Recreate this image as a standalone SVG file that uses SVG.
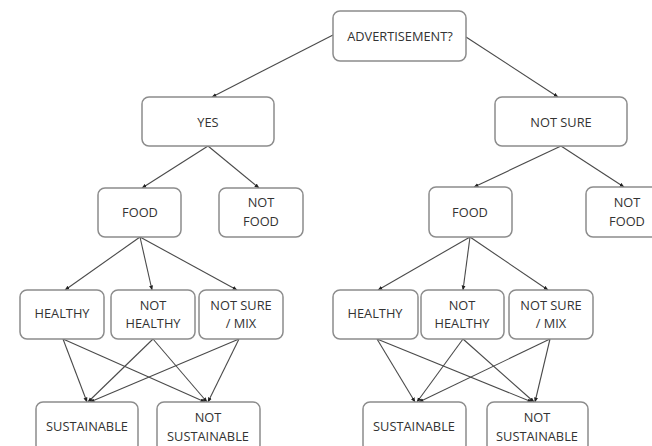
<svg xmlns="http://www.w3.org/2000/svg" width="652" height="446" viewBox="0 0 652 446">
<style>
.box{fill:#fff;stroke:#8c8c8c;stroke-width:1.5}
.t{font-family:"Open Sans","Liberation Sans",sans-serif;font-size:12.8px;fill:#333;text-anchor:middle}
.c{stroke:#4a4a4a;stroke-width:1.1;fill:none;marker-end:url(#ah)}
</style>
<defs>
<marker id="ah" viewBox="0 0 10 10" refX="9" refY="5" markerWidth="5" markerHeight="5" orient="auto" markerUnits="userSpaceOnUse">
<path d="M0,1 L10,5 L0,9 z" fill="#222"/>
</marker>
</defs>
<rect width="652" height="446" fill="#fff"/>
<g id="connectors">
<line class="c" x1="333" y1="35" x2="212" y2="97"/>
<line class="c" x1="466" y1="37" x2="558" y2="97"/>
<line class="c" x1="208" y1="146" x2="142" y2="188"/>
<line class="c" x1="208" y1="146" x2="259" y2="188"/>
<line class="c" x1="561" y1="146" x2="474" y2="187"/>
<line class="c" x1="561" y1="146" x2="624" y2="187"/>
<line class="c" x1="140" y1="237" x2="65" y2="290"/>
<line class="c" x1="140" y1="237" x2="152" y2="290"/>
<line class="c" x1="140" y1="237" x2="237" y2="290"/>
<line class="c" x1="470" y1="237" x2="378" y2="290"/>
<line class="c" x1="470" y1="237" x2="463" y2="290"/>
<line class="c" x1="470" y1="237" x2="548" y2="290"/>
<line class="c" x1="63" y1="339" x2="87" y2="402"/>
<line class="c" x1="63" y1="339" x2="205" y2="402"/>
<line class="c" x1="153" y1="339" x2="88" y2="402"/>
<line class="c" x1="153" y1="339" x2="207" y2="402"/>
<line class="c" x1="239" y1="339" x2="90" y2="402"/>
<line class="c" x1="239" y1="339" x2="208" y2="402"/>
<line class="c" x1="377" y1="339" x2="415" y2="402"/>
<line class="c" x1="377" y1="339" x2="532" y2="402"/>
<line class="c" x1="463" y1="339" x2="417" y2="402"/>
<line class="c" x1="463" y1="339" x2="534" y2="402"/>
<line class="c" x1="550" y1="339" x2="419" y2="402"/>
<line class="c" x1="550" y1="339" x2="535" y2="402"/>
</g>
<g id="advertisement"><rect class="box" x="333" y="11" width="133" height="50" rx="7"/><text class="t" x="400" y="41">ADVERTISEMENT?</text></g>
<g id="yes"><rect class="box" x="142" y="97" width="132" height="49" rx="7"/><text class="t" x="208" y="127">YES</text></g>
<g id="notsure"><rect class="box" x="495" y="97" width="132" height="49" rx="7"/><text class="t" x="561" y="127">NOT SURE</text></g>
<g id="food1"><rect class="box" x="98" y="188" width="83" height="49" rx="7"/><text class="t" x="140" y="217">FOOD</text></g>
<g id="notfood1"><rect class="box" x="219" y="188" width="84" height="49" rx="7"/><text class="t" x="261" y="207">NOT</text><text class="t" x="261" y="226">FOOD</text></g>
<g id="food2"><rect class="box" x="429" y="187" width="83" height="50" rx="7"/><text class="t" x="470" y="217">FOOD</text></g>
<g id="notfood2"><rect class="box" x="586" y="187" width="82" height="50" rx="7"/><text class="t" x="627" y="207">NOT</text><text class="t" x="627" y="226">FOOD</text></g>
<g id="healthy1"><rect class="box" x="20" y="290" width="84" height="49" rx="7"/><text class="t" x="62" y="318">HEALTHY</text></g>
<g id="nothealthy1"><rect class="box" x="111" y="290" width="84" height="49" rx="7"/><text class="t" x="153" y="310">NOT</text><text class="t" x="153" y="328">HEALTHY</text></g>
<g id="mix1"><rect class="box" x="199" y="290" width="84" height="49" rx="7"/><text class="t" x="241" y="310">NOT SURE</text><text class="t" x="241" y="328">/ MIX</text></g>
<g id="healthy2"><rect class="box" x="333" y="290" width="85" height="49" rx="7"/><text class="t" x="375" y="318">HEALTHY</text></g>
<g id="nothealthy2"><rect class="box" x="421" y="290" width="83" height="49" rx="7"/><text class="t" x="462" y="310">NOT</text><text class="t" x="462" y="328">HEALTHY</text></g>
<g id="mix2"><rect class="box" x="509" y="290" width="84" height="49" rx="7"/><text class="t" x="551" y="310">NOT SURE</text><text class="t" x="551" y="328">/ MIX</text></g>
<g id="sust1"><rect class="box" x="36" y="402" width="102" height="50" rx="7"/><text class="t" x="87" y="431">SUSTAINABLE</text></g>
<g id="notsust1"><rect class="box" x="157" y="402" width="103" height="50" rx="7"/><text class="t" x="208" y="422">NOT</text><text class="t" x="208" y="441">SUSTAINABLE</text></g>
<g id="sust2"><rect class="box" x="363" y="402" width="103" height="50" rx="7"/><text class="t" x="414" y="431">SUSTAINABLE</text></g>
<g id="notsust2"><rect class="box" x="487" y="402" width="101" height="50" rx="7"/><text class="t" x="537" y="422">NOT</text><text class="t" x="537" y="441">SUSTAINABLE</text></g>
</svg>
